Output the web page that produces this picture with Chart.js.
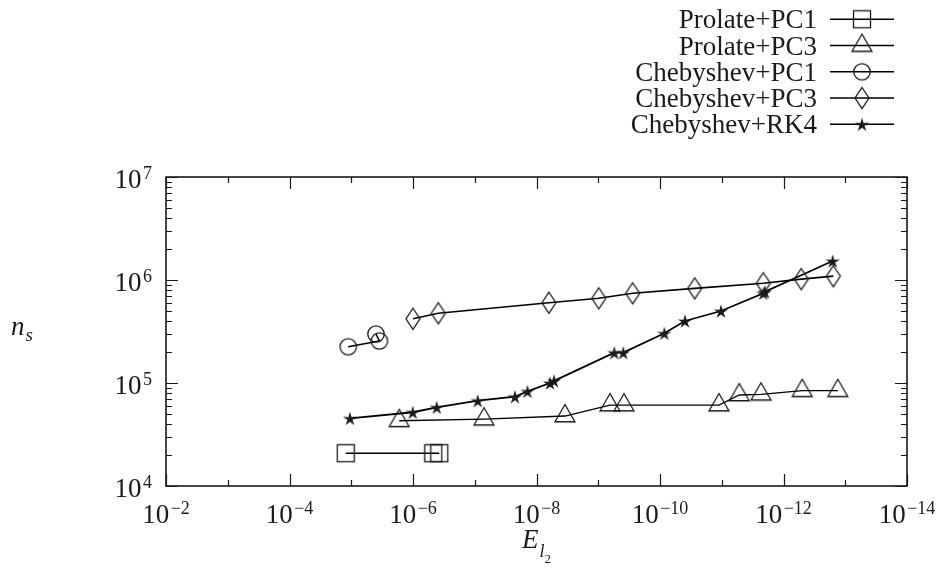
<!DOCTYPE html>
<html>
<head>
<meta charset="utf-8">
<script src="https://cdn.jsdelivr.net/npm/chart.js@4/dist/chart.umd.min.js"></script>
<style>
html,body{margin:0;padding:0;background:#fff;}
#wrap{width:944px;height:568px;}
</style>
</head>
<body>
<div id="wrap"><canvas id="c" width="944" height="568"></canvas></div>
<script>
// ---- data ----
const seriesNames = ["Prolate+PC1", "Prolate+PC3", "Chebyshev+PC1", "Chebyshev+PC3", "Chebyshev+RK4"];

const prolatePC1_E = [1.23e-5, 4.69e-7, 3.75e-7];
const prolatePC1_N = [2.08e4, 2.08e4, 2.08e4];

const prolatePC3_E = [1.67e-6, 7.08e-8, 3.46e-9, 6.46e-10, 3.83e-10, 1.11e-11, 5.2e-12, 2.31e-12, 4.97e-13, 1.32e-13];
const prolatePC3_N = [4.3e4, 4.45e4, 4.78e4, 6.1e4, 6.1e4, 6.1e4, 7.65e4, 7.77e4, 8.42e4, 8.42e4];

const chebPC1_E = [1.12e-5, 3.5e-6, 3.98e-6];
const chebPC1_N = [2.25e5, 2.56e5, 2.99e5];

const chebPC3_E = [1.0e-6, 3.89e-7, 6.3e-9, 9.8e-10, 2.77e-10, 2.74e-11, 2.12e-12, 5.15e-13, 1.56e-13];
const chebPC3_N = [4.2e5, 4.75e5, 6.02e5, 6.64e5, 7.43e5, 8.3e5, 9.3e5, 1.02e6, 1.09e6];

const chebRK4_E = [1.05e-5, 1.01e-6, 4.13e-7, 8.95e-8, 2.23e-8, 1.4e-8, 6.04e-9, 5.2e-9, 5.5e-10, 3.93e-10, 8.5e-11, 3.94e-11, 1.03e-11, 2.12e-12, 2.0e-12, 1.6e-13];
const chebRK4_N = [4.54e4, 5.2e4, 5.81e4, 6.73e4, 7.36e4, 8.3e4, 1.0e5, 1.05e5, 1.97e5, 1.97e5, 3.04e5, 4.0e5, 5.0e5, 7.43e5, 7.7e5, 1.53e6];

// tick labels
const xMajorExps = [-2, -4, -6, -8, -10, -12, -14];
const xMinorExps = [-3, -5, -7, -9, -11, -13];
const yMajorExps = [4, 5, 6, 7];
const xTitle = ["E", "l", "2"];
const yTitle = ["n", "s"];

// ---- marker images ----
const INK = "#1a1a1a";
function mk(w, h, draw) {
  const c = document.createElement("canvas");
  c.width = w; c.height = h;
  const g = c.getContext("2d");
  g.strokeStyle = INK; g.fillStyle = INK; g.lineWidth = 1.3;
  draw(g, w / 2, h / 2);
  return c;
}
const mSquare = mk(20, 20, (g, cx, cy) => { g.strokeRect(cx - 8.5, cy - 8.5, 17, 17); });
const mTriangle = mk(24, 26, (g, cx, cy) => {
  const r = 11.5;
  g.beginPath();
  g.moveTo(cx, cy - r);
  g.lineTo(cx + r * Math.sin(2 * Math.PI / 3), cy + r / 2);
  g.lineTo(cx - r * Math.sin(2 * Math.PI / 3), cy + r / 2);
  g.closePath(); g.stroke();
});
const mCircle = mk(20, 20, (g, cx, cy) => { g.beginPath(); g.arc(cx, cy, 8.2, 0, Math.PI * 2); g.stroke(); });
const mDiamond = mk(18, 26, (g, cx, cy) => {
  g.beginPath();
  g.moveTo(cx, cy - 10.5); g.lineTo(cx + 7, cy); g.lineTo(cx, cy + 10.5); g.lineTo(cx - 7, cy);
  g.closePath(); g.stroke();
});
const mStar = mk(20, 20, (g, cx, cy) => {
  const R = 7.5, r = 2.6;
  g.beginPath();
  for (let i = 0; i < 10; i++) {
    const a = -Math.PI / 2 + i * Math.PI / 5;
    const rr = i % 2 === 0 ? R : r;
    const px = cx + rr * Math.cos(a), py = cy + rr * Math.sin(a) + 0.8;
    if (i === 0) g.moveTo(px, py); else g.lineTo(px, py);
  }
  g.closePath(); g.fill();
});
const markers = [mSquare, mTriangle, mCircle, mDiamond, mStar];

function pts(E, N) { return E.map((e, i) => ({ x: e, y: N[i] })); }
const allE = [prolatePC1_E, prolatePC3_E, chebPC1_E, chebPC3_E, chebRK4_E];
const allN = [prolatePC1_N, prolatePC3_N, chebPC1_N, chebPC3_N, chebRK4_N];
const lineWidths = [1.5, 1.3, 1.6, 1.6, 1.8];

const datasets = seriesNames.map((name, i) => ({
  label: name,
  data: pts(allE[i], allN[i]),
  showLine: true,
  borderColor: "#000",
  borderWidth: lineWidths[i],
  tension: 0,
  pointStyle: markers[i],
  pointRadius: 8,
  pointHoverRadius: 8,
  backgroundColor: "rgba(0,0,0,0)",
  clip: false
}));

const FONT = '"Liberation Serif", "Times New Roman", serif';
const MAIN = 27, SUP = 18;

function powLabel(ctx, base, exp, x, baseline, align) {
  ctx.font = MAIN + "px " + FONT;
  const wb = ctx.measureText(base).width;
  ctx.font = SUP + "px " + FONT;
  const we = ctx.measureText(exp).width;
  const gap = 1.5;
  const total = wb + gap + we;
  let x0 = align === "center" ? x - total / 2 : (align === "right" ? x - total : x);
  ctx.textAlign = "left";
  ctx.textBaseline = "alphabetic";
  ctx.font = MAIN + "px " + FONT;
  ctx.fillText(base, x0, baseline);
  ctx.font = SUP + "px " + FONT;
  ctx.fillText(exp, x0 + wb + gap, baseline - 9.5);
}

const decor = {
  id: "decor",
  afterDraw(chart) {
    const ctx = chart.ctx;
    const a = chart.chartArea;
    const xs = chart.scales.x, ys = chart.scales.y;
    ctx.save();
    ctx.fillStyle = INK;
    ctx.strokeStyle = INK;
    // frame
    ctx.lineWidth = 1.6;
    ctx.strokeRect(a.left, a.top, a.right - a.left, a.bottom - a.top);
    // ticks
    ctx.lineWidth = 1.2;
    ctx.beginPath();
    xMajorExps.forEach(e => {
      const px = Math.round(xs.getPixelForValue(Math.pow(10, e))) + 0.5;
      ctx.moveTo(px, a.bottom); ctx.lineTo(px, a.bottom - 12);
      ctx.moveTo(px, a.top); ctx.lineTo(px, a.top + 12);
    });
    xMinorExps.forEach(e => {
      const px = Math.round(xs.getPixelForValue(Math.pow(10, e))) + 0.5;
      ctx.moveTo(px, a.bottom); ctx.lineTo(px, a.bottom - 6);
      ctx.moveTo(px, a.top); ctx.lineTo(px, a.top + 6);
    });
    yMajorExps.forEach((e, k) => {
      const py = Math.round(ys.getPixelForValue(Math.pow(10, e))) + 0.5;
      ctx.moveTo(a.left, py); ctx.lineTo(a.left + 12, py);
      ctx.moveTo(a.right, py); ctx.lineTo(a.right - 12, py);
      if (k < yMajorExps.length - 1) {
        for (let m = 2; m <= 9; m++) {
          const pm = Math.round(ys.getPixelForValue(m * Math.pow(10, e))) + 0.5;
          ctx.moveTo(a.left, pm); ctx.lineTo(a.left + 6, pm);
          ctx.moveTo(a.right, pm); ctx.lineTo(a.right - 6, pm);
        }
      }
    });
    ctx.stroke();
    // x tick labels
    xMajorExps.forEach(e => {
      const px = xs.getPixelForValue(Math.pow(10, e));
      powLabel(ctx, "10", "\u2212" + Math.abs(e), px, 523, "center");
    });
    // y tick labels
    yMajorExps.forEach(e => {
      const py = ys.getPixelForValue(Math.pow(10, e));
      powLabel(ctx, "10", String(e), a.left - 14, py + 11, "right");
    });
    // x title E_{l_2}
    ctx.textAlign = "left"; ctx.textBaseline = "alphabetic";
    ctx.font = "italic " + MAIN + "px " + FONT;
    const wE = ctx.measureText(xTitle[0]).width;
    ctx.font = "italic 18px " + FONT;
    const wl = ctx.measureText(xTitle[1]).width;
    ctx.font = "13px " + FONT;
    const w2 = ctx.measureText(xTitle[2]).width;
    const tot = wE + 1 + wl + w2;
    let tx = (a.left + a.right) / 2 - tot / 2;
    ctx.font = "italic " + MAIN + "px " + FONT; ctx.fillText(xTitle[0], tx, 548);
    tx += wE + 1;
    ctx.font = "italic 18px " + FONT; ctx.fillText(xTitle[1], tx, 557);
    tx += wl;
    ctx.font = "13px " + FONT; ctx.fillText(xTitle[2], tx, 563);
    // y title n_s
    ctx.font = "italic " + MAIN + "px " + FONT;
    const wn = ctx.measureText(yTitle[0]).width;
    ctx.fillText(yTitle[0], 11, 335);
    ctx.font = "italic 19px " + FONT;
    ctx.fillText(yTitle[1], 11 + wn + 1, 341);
    // legend
    const rowY0 = 19.3, rowH = 26.25;
    seriesNames.forEach((name, i) => {
      const y = rowY0 + i * rowH;
      ctx.font = MAIN + "px " + FONT;
      ctx.textAlign = "right";
      ctx.fillText(name, 817, y + 9);
      ctx.lineWidth = 1.5;
      ctx.strokeStyle = "#000";
      ctx.beginPath(); ctx.moveTo(830, y); ctx.lineTo(894, y); ctx.stroke();
      const img = markers[i];
      ctx.drawImage(img, 862 - img.width / 2, y - img.height / 2);
    });
    ctx.restore();
  }
};

new Chart(document.getElementById("c"), {
  type: "scatter",
  data: { datasets },
  options: {
    responsive: false,
    devicePixelRatio: 1,
    animation: false,
    events: [],
    layout: { padding: { top: 177, right: 37, left: 0, bottom: 0 } },
    plugins: { legend: { display: false }, tooltip: { enabled: false } },
    scales: {
      x: {
        type: "logarithmic",
        min: 1e-14, max: 1e-2, reverse: true,
        grid: { display: false, drawTicks: false },
        border: { display: false },
        ticks: { display: false },
        afterFit(s) { s.height = 82; }
      },
      y: {
        type: "logarithmic",
        min: 1e4, max: 1e7,
        grid: { display: false, drawTicks: false },
        border: { display: false },
        ticks: { display: false },
        afterFit(s) { s.width = 166; }
      }
    }
  },
  plugins: [decor]
});
</script>
</body>
</html>
